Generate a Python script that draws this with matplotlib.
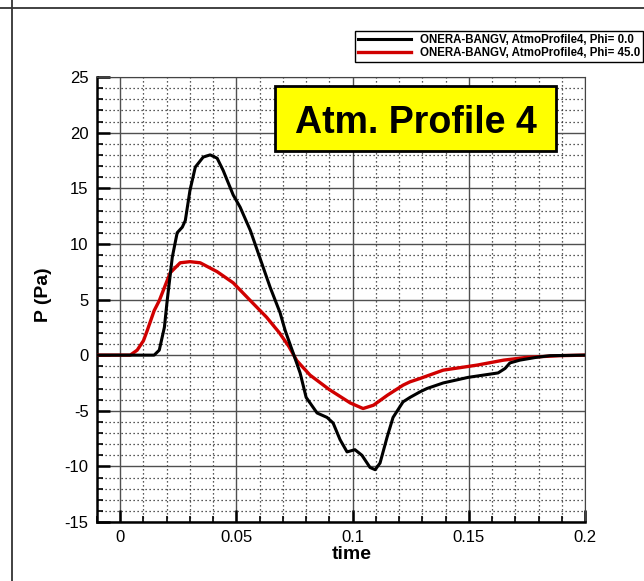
import numpy as np
import matplotlib
matplotlib.use('Agg')
import matplotlib.pyplot as plt
from matplotlib.lines import Line2D
from matplotlib.patches import Rectangle
from matplotlib.ticker import MultipleLocator, FixedLocator

# data
t_phi0 = [-0.01, 0.0, 0.010, 0.0146, 0.0168, 0.019, 0.0202, 0.0224, 0.0245, 0.0267,
          0.028, 0.030, 0.0323, 0.0357, 0.0387, 0.0417, 0.0443, 0.0486, 0.0516, 0.056,
          0.060, 0.0645, 0.0688, 0.071, 0.0744, 0.0774, 0.080, 0.0847, 0.089, 0.0916,
          0.0946, 0.0976, 0.101, 0.104, 0.1075, 0.1097, 0.1118, 0.1148, 0.1174, 0.1217,
          0.1247, 0.129, 0.132, 0.139, 0.1497, 0.1626, 0.1656, 0.1677, 0.172, 0.179,
          0.185, 0.2]
p_phi0 = [0, 0, 0, 0, 0.45, 2.5, 4.9, 8.8, 11.0, 11.5,
          12.1, 14.8, 16.9, 17.8, 18.0, 17.7, 16.6, 14.4, 13.3, 11.2,
          8.8, 6.1, 3.8, 2.2, 0.2, -1.6, -3.8, -5.2, -5.6, -6.1,
          -7.6, -8.7, -8.5, -9.0, -10.1, -10.3, -9.7, -7.4, -5.6, -4.2,
          -3.8, -3.3, -3.0, -2.5, -2.0, -1.6, -1.2, -0.7, -0.45, -0.2,
          -0.05, 0]

t_phi45 = [-0.01, 0.0043, 0.0073, 0.010, 0.0116, 0.0146, 0.0168, 0.0215, 0.0258, 0.030,
           0.0344, 0.0417, 0.0486, 0.056, 0.063, 0.0685, 0.0725, 0.076, 0.0817, 0.090,
           0.099, 0.1045, 0.109, 0.115, 0.1217, 0.1247, 0.129, 0.139, 0.1535, 0.165,
           0.175, 0.189, 0.2]
p_phi45 = [0, 0, 0.45, 1.3, 2.2, 4.0, 4.9, 7.4, 8.3, 8.4,
           8.3, 7.5, 6.5, 4.9, 3.4, 2.0, 0.8, -0.5, -1.8, -3.1,
           -4.3, -4.8, -4.5, -3.6, -2.7, -2.4, -2.1, -1.35, -0.9, -0.45,
           -0.2, -0.05, 0]

labels = ["ONERA-BANGV, AtmoProfile4, Phi= 0.0",
          "ONERA-BANGV, AtmoProfile4, Phi= 45.0"]
xticks = [0, 0.05, 0.1, 0.15, 0.2]
xticklabels = ["0", "0.05", "0.1", "0.15", "0.2"]
yticks = [-15, -10, -5, 0, 5, 10, 15, 20, 25]

plt.rcParams['font.family'] = ['Liberation Sans', 'DejaVu Sans']
plt.rcParams['axes.unicode_minus'] = False

W, H = 644, 581
fig = plt.figure(figsize=(W / 100, H / 100), dpi=100)
ax = fig.add_axes([97 / W, 1 - 522 / H, 488 / W, 445 / H])

l1, = ax.plot(t_phi0, p_phi0, color='k', lw=2.2, zorder=4)
l2, = ax.plot(t_phi45, p_phi45, color='#d00000', lw=2.4, zorder=3)

ax.set_xlim(-0.01, 0.2)
ax.set_ylim(-15, 25)
ax.xaxis.set_major_locator(FixedLocator(xticks))
ax.set_xticklabels(xticklabels)
ax.xaxis.set_minor_locator(MultipleLocator(0.01))
ax.yaxis.set_major_locator(FixedLocator(yticks))
ax.yaxis.set_minor_locator(MultipleLocator(1))

ax.grid(which='major', color='#505050', lw=1.0, ls='-')
ax.grid(which='minor', color='#222222', lw=0.9, ls=(0, (1, 2.2)))
ax.set_axisbelow(True)

ax.tick_params(which='major', direction='in', length=9, width=1.8, labelsize=12, pad=6)
ax.tick_params(which='minor', direction='in', length=4.5, width=1.2)
ax.tick_params(top=False, right=False, which='both')

for s in ['left', 'bottom']:
    ax.spines[s].set_linewidth(1.8)
for s in ['top', 'right']:
    ax.spines[s].set_linewidth(0.8)
    ax.spines[s].set_color('#444444')

ax.set_xlabel("time", fontsize=14, fontweight='bold')
ax.set_ylabel("P (Pa)", fontsize=14, fontweight='bold')
ax.xaxis.set_label_coords(0.522, -0.055)
ax.yaxis.set_label_coords(-0.092, 0.51)

leg = fig.legend([l1, l2], labels, loc='upper right',
                 bbox_to_anchor=(643 / W, 1 - 31 / H), prop={'weight': 'bold', 'size': 8.3},
                 fancybox=False, edgecolor='k', framealpha=1, borderpad=0.25,
                 labelspacing=0.1, handlelength=4.6, handletextpad=0.8, borderaxespad=0,
                 handleheight=0.6)
leg.get_frame().set_linewidth(1.0)

# yellow title box
fig.add_artist(Rectangle((275 / W, 1 - 151 / H), 281 / W, 65 / H, transform=fig.transFigure,
                         facecolor='#ffff00', edgecolor='k', lw=2, zorder=5))
fig.text(415.5 / W, 1 - 118.5 / H, "Atm. Profile 4", fontsize=27, fontweight='bold',
         ha='center', va='center_baseline', zorder=6)

# frame lines of the page
fig.add_artist(Line2D([0, 1], [1 - 8 / H] * 2, transform=fig.transFigure, color='#333333', lw=1.3))
fig.add_artist(Line2D([12 / W] * 2, [0, 1], transform=fig.transFigure, color='#333333', lw=1.3))

fig.savefig('out.png', dpi=100)
